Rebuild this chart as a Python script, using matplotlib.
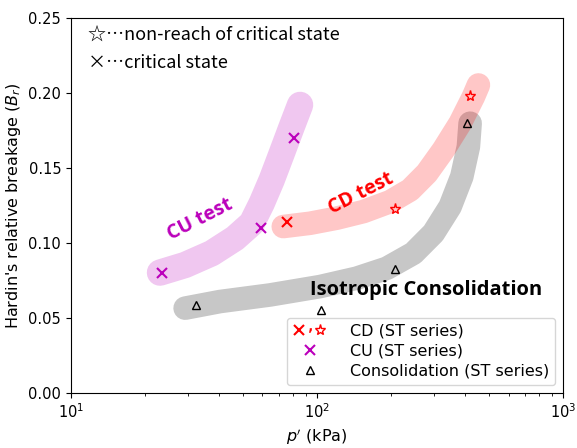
import matplotlib
matplotlib.use('Agg')
from matplotlib import pyplot as plt
from matplotlib.lines import Line2D
from matplotlib.legend_handler import HandlerTuple

# measured points (p' in kPa, Br)
cu_p = [23.4, 59.0, 80.9]
cu_br = [0.080, 0.110, 0.170]
cd_crit_p = [75.3]
cd_crit_br = [0.114]
cd_nonreach_p = [208.0, 418.0]
cd_nonreach_br = [0.1225, 0.198]
cons_p = [32.1, 103.5, 208.0, 408.0]
cons_br = [0.0587, 0.0553, 0.0827, 0.180]

# hand-drawn trend bands
cu_band_p = [23.0, 29.1, 37.3, 46.4, 54.3, 59.6, 65.4, 71.9, 78.9, 85.3]
cu_band_br = [0.0802, 0.0853, 0.0931, 0.1031, 0.1131, 0.1265, 0.1420, 0.1598, 0.1775, 0.1920]
cd_band_p = [72.9, 93.7, 120.3, 154.3, 198.1, 238.8, 279.2, 326.2, 381.3, 431.9, 452.6]
cd_band_br = [0.1109, 0.1131, 0.1165, 0.1209, 0.1275, 0.1353, 0.1465, 0.1620, 0.1798, 0.1975, 0.2053]
cons_band_p = [29.1, 40.3, 64.4, 102.9, 145.0, 192.0, 246.3, 297.0, 347.3, 387.4, 412.1, 418.8]
cons_band_br = [0.0565, 0.0609, 0.0653, 0.0709, 0.0765, 0.0831, 0.0931, 0.1065, 0.1242, 0.1442,
                0.1642, 0.1798]

PURPLE = '#bb00bb'


def main():
    fig = plt.figure(figsize=(5.77, 4.48), dpi=100)
    ax = fig.add_axes([0.123, 0.123, 0.853, 0.837])

    band = dict(solid_capstyle='round', solid_joinstyle='round', alpha=0.22, zorder=1)
    ax.plot(cons_band_p, cons_band_br, color='black', linewidth=17, **band)
    ax.plot(cu_band_p, cu_band_br, color=PURPLE, linewidth=19, **band)
    ax.plot(cd_band_p, cd_band_br, color='red', linewidth=17, **band)

    ax.plot(cu_p, cu_br, 'x', color=PURPLE, markersize=7, mew=1.5, zorder=3)
    ax.plot(cd_crit_p, cd_crit_br, 'x', color='red', markersize=7, mew=1.5, zorder=3)
    ax.plot(cd_nonreach_p, cd_nonreach_br, '*', color='red', mfc='none', markersize=8,
            mew=1.0, zorder=3)
    ax.plot(cons_p, cons_br, '^', color='black', mfc='none', markersize=6, mew=1.0, zorder=3)

    ax.set_xscale('log')
    ax.set_xlim(10, 1000)
    ax.set_ylim(0, 0.25)
    ax.set_yticks([0, 0.05, 0.10, 0.15, 0.20, 0.25])
    ax.yaxis.set_major_formatter(plt.FormatStrFormatter('%.2f'))
    ax.tick_params(labelsize=10.5)
    ax.set_xlabel("$p'$ (kPa)", fontsize=11.5, labelpad=4)
    ax.set_ylabel("Hardin's relative breakage ($B_r$)", fontsize=11.5)

    bold = dict(family='Open Sans', fontweight='bold', ha='center', va='center',
                rotation_mode='anchor')
    ax.text(33.4, 0.1153, 'CU test', color=PURPLE, fontsize=14, rotation=27, **bold)
    ax.text(151, 0.1327, 'CD test', color='red', fontsize=14, rotation=27, **bold)
    ax.text(93.7, 0.0687, 'Isotropic Consolidation', color='black', fontsize=14.5,
            family='Open Sans', fontweight='bold', ha='left', va='center')

    note = dict(transform=ax.transAxes, fontsize=13, va='center', ha='left',
                family=['Noto Sans CJK JP', 'DejaVu Sans'])
    ax.text(0.035, 0.952, '☆…non-reach of critical state', **note)
    ax.text(0.035, 0.880, '×…critical state', **note)

    # legend handles
    h_cd = (Line2D([], [], ls='none', marker='x', color='red', markersize=7, mew=1.5),
            Line2D([], [], ls='none', marker='$,$', color='red', markersize=3, mew=0.3),
            Line2D([], [], ls='none', marker='*', color='red', mfc='none', markersize=8, mew=1.0))
    h_cu = Line2D([], [], ls='none', marker='x', color=PURPLE, markersize=7, mew=1.5)
    h_cons = Line2D([], [], ls='none', marker='^', color='black', mfc='none', markersize=6, mew=1.0)
    ax.legend([h_cd, h_cu, h_cons],
              ['CD (ST series)', 'CU (ST series)', 'Consolidation (ST series)'],
              handler_map={tuple: HandlerTuple(ndivide=None, pad=0.0)},
              loc='lower right', fontsize=11.5, handletextpad=1.5, labelspacing=0.3)

    fig.savefig('out.png', dpi=100)


if __name__ == "__main__":
    main()
